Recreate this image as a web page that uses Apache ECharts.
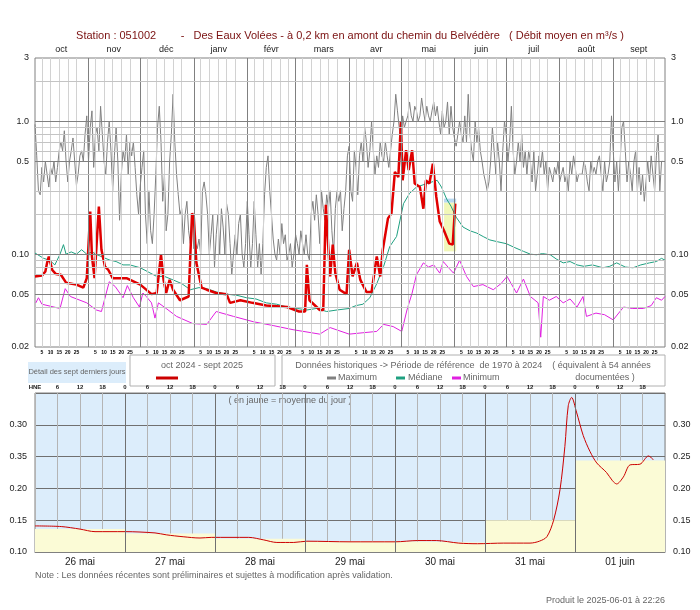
<!DOCTYPE html>
<html>
<head>
<meta charset="utf-8">
<script src="https://cdn.jsdelivr.net/npm/echarts@6/dist/echarts.min.js"></script>
<style>
html, body { margin: 0; padding: 0; background: #fff; }
#chart { width: 700px; height: 610px; }
</style>
</head>
<body>
<div id="chart"></div>
<script>
// jours depuis le 1er octobre
var months = ['oct', 'nov', 'déc', 'janv', 'févr', 'mars', 'avr', 'mai', 'juin', 'juil', 'août', 'sept'];
var monthStart = [0, 31, 61, 92, 123, 151, 182, 212, 243, 273, 304, 335, 365];
var minorDays = [5, 10, 15, 20, 25];
var yMinor = [0.03, 0.04, 0.06, 0.07, 0.08, 0.09, 0.2, 0.3, 0.4, 0.6, 0.7, 0.8, 0.9, 2];
var yMajor = [0.05, 0.1, 0.5, 1];
var yLabels = [[3, '3'], [1, '1.0'], [0.5, '0.5'], [0.1, '0.10'], [0.05, '0.05'], [0.02, '0.02']];

var observed = [[0,0.068],[4,0.069],[6,0.074],[7,0.086],[8,0.096],[9,0.093],[10,0.076],[12,0.071],[15,0.070],[18,0.061],
  [24,0.059],[28,0.056],[30,0.066],[32,0.209],[33,0.096],[34.5,0.066],[35.5,0.108],[37,0.228],[38.5,0.108],[40.5,0.081],
  [42.5,0.076],[45,0.066],[53,0.066],[61,0.059],[67.5,0.050],[70.5,0.051],[72,0.076],[73,0.099],[74.5,0.064],[76,0.051],
  [78,0.064],[80,0.054],[84,0.045],[89,0.048],[91,0.203],[92,0.19],[93.5,0.086],[96.5,0.056],[99.5,0.054],[105,0.051],
  [111,0.050],[113,0.043],[119,0.045],[126,0.043],[134,0.041],[146,0.040],[153,0.037],[156.5,0.037],[157.5,0.083],
  [159,0.045],[165,0.038],[167,0.038],[168.5,0.235],[170,0.108],[171,0.068],[172.5,0.118],[174,0.072],[176.5,0.054],
  [180.5,0.050],[182,0.108],[183,0.105],[184,0.068],[186.5,0.086],[188.5,0.064],[192,0.052],[195,0.052],[198,0.096],
  [200,0.068],[201.5,0.108],[204.5,0.186],[206.5,0.203],[208.5,0.417],[210.5,0.38],[212,0.99],[213,0.36],[215,0.606],
  [216.5,0.43],[218.5,0.606],[220,0.34],[223,0.32],[225,0.22],[226.5,0.36],[228.5,0.34],[230.5,0.48],[232.5,0.27],
  [234.5,0.176],[237,0.15],[240,0.12],[242,0.118],[243.5,0.24]];

var median = [[0,0.102],[5,0.093],[8.5,0.090],[11.5,0.083],[14.5,0.100],[16.5,0.118],[18,0.100],[21,0.104],[24,0.100],
  [27,0.108],[30,0.100],[33,0.104],[36,0.099],[40,0.094],[43.5,0.090],[47,0.088],[51,0.083],[55,0.083],[61,0.079],
  [66,0.073],[70.5,0.068],[75,0.068],[80,0.064],[85,0.060],[90,0.054],[95,0.056],[99.5,0.055],[105,0.052],[111,0.050],
  [117,0.049],[122.5,0.047],[128,0.046],[134,0.043],[140,0.042],[146,0.040],[152,0.039],[157.5,0.038],[163,0.039],
  [169,0.037],[175,0.038],[182,0.039],[186,0.041],[190,0.042],[194,0.047],[198,0.060],[202,0.081],[205.5,0.114],
  [209.5,0.136],[213.5,0.24],[217,0.287],[221,0.32],[227,0.34],[233,0.36],[235.5,0.32],[238.5,0.26],[241,0.23],
  [244,0.19],[248,0.16],[252,0.15],[256,0.144],[260,0.135],[263.5,0.128],[268,0.124],[273,0.12],[278,0.112],
  [283,0.105],[287,0.100],[290.5,0.099],[294,0.101],[298.5,0.099],[302,0.092],[306,0.086],[310,0.088],[314,0.083],
  [318,0.081],[323,0.083],[329,0.079],[333,0.081],[337,0.086],[342,0.080],[346.5,0.079],[351,0.083],[356,0.086],
  [360,0.088],[363,0.093],[365,0.090]];

var minimum = [[0.5,0.043],[2,0.047],[4,0.042],[14.5,0.039],[17.5,0.055],[20.5,0.048],[30,0.043],[35.5,0.038],[38.5,0.037],
  [43,0.062],[46.5,0.057],[51,0.047],[53.5,0.058],[57,0.047],[60.5,0.040],[62.5,0.051],[64.5,0.048],[67.5,0.043],
  [69.5,0.033],[71.5,0.043],[76,0.039],[82,0.034],[91.5,0.030],[99.5,0.0296],[105,0.037],[115,0.034],[126.5,0.031],
  [138,0.029],[149.5,0.027],[165,0.025],[171,0.028],[182,0.025],[190,0.0256],[198,0.0262],[202,0.0296],[207.5,0.0285],
  [212.5,0.0262],[215.5,0.038],[218.5,0.051],[221,0.070],[225,0.086],[228,0.080],[231,0.083],[234.5,0.072],
  [236.5,0.088],[240,0.078],[242.5,0.072],[246,0.090],[250,0.068],[254,0.057],[259.5,0.059],[265.5,0.054],
  [270,0.060],[273.5,0.068],[279,0.051],[283,0.065],[287,0.048],[291.5,0.043],[293,0.0237],[294.5,0.048],
  [298,0.045],[302,0.048],[306,0.043],[310,0.046],[314,0.040],[317.5,0.048],[319.5,0.034],[325,0.036],
  [330,0.035],[335,0.032],[341,0.040],[346,0.039],[352.5,0.039],[357,0.041],[360,0.047],[363,0.045],[365,0.048]];

var maximum = [0.95,0.55,0.3,0.28,0.45,0.35,0.5,0.4,0.32,0.45,0.4,0.5,0.35,0.45,0.6,0.7,0.6,0.85,0.5,0.35,
  0.5,0.6,0.75,0.5,0.33,0.4,0.55,0.6,0.5,0.8,1.1,0.5,0.9,1.2,0.45,0.8,0.9,0.6,1.3,0.8,
  0.5,0.4,0.7,1.0,0.6,0.3,0.55,0.9,0.5,0.18,0.4,0.6,0.5,0.8,0.4,0.7,0.55,0.7,0.45,0.28,
  0.2,0.33,0.45,0.6,0.2,0.12,0.3,0.15,0.12,0.2,0.4,0.9,1.3,0.7,0.25,0.4,0.15,0.2,0.5,0.8,
  1.6,0.7,0.4,0.28,0.2,0.22,0.12,0.2,0.25,0.15,0.12,0.2,0.11,0.12,0.11,0.13,0.1,0.3,0.35,0.28,
  0.2,0.1,0.14,0.2,0.08,0.14,0.2,0.1,0.22,0.16,0.1,0.24,0.2,0.12,0.07,0.1,0.14,0.1,0.17,0.2,
  0.1,0.08,0.12,0.25,0.14,0.08,0.12,0.25,0.14,0.08,0.12,0.07,0.12,0.28,0.45,0.55,0.3,0.2,0.13,0.1,
  0.09,0.13,0.1,0.17,0.12,0.14,0.09,0.1,0.12,0.08,0.1,0.14,0.12,0.1,0.15,0.12,0.1,0.14,0.1,0.09,
  0.2,0.25,0.18,0.28,0.2,0.12,0.3,0.22,0.18,0.28,0.22,0.3,0.15,0.1,0.22,0.3,0.25,0.3,0.15,0.22,
  0.3,0.55,0.65,0.3,0.25,0.6,0.45,0.28,0.55,0.7,0.5,0.9,0.7,0.45,0.6,1.0,0.6,0.4,0.55,0.45,
  0.7,0.55,0.5,0.7,0.55,0.45,0.6,0.8,1.0,1.6,1.2,0.9,0.7,1.1,0.9,1.0,1.1,1.4,1.1,1.0,
  1.3,1.2,1.0,1.1,1.5,1.2,1.0,1.3,1.1,1.0,1.2,1.4,1.1,1.3,1.0,0.8,1.2,0.9,1.0,1.4,
  0.8,1.3,0.9,0.75,0.65,0.8,1.0,0.8,0.7,1.1,0.7,1.6,0.8,0.6,0.5,1.0,0.7,0.9,0.6,0.5,
  0.4,0.35,0.3,0.35,0.5,0.9,0.6,0.4,0.7,0.5,0.3,0.6,1.0,0.8,0.5,0.7,1.3,0.6,0.4,0.5,
  0.7,0.5,0.8,0.45,0.6,0.4,0.6,0.5,0.35,0.6,0.3,0.4,0.55,0.45,0.6,0.4,0.5,0.3,0.45,0.4,
  0.35,0.45,0.4,0.5,0.35,0.4,0.45,0.35,0.4,0.3,0.5,0.4,0.55,0.45,0.35,0.4,0.4,0.4,0.5,0.45,
  0.35,0.3,0.5,0.4,0.45,0.4,0.5,0.55,0.4,0.3,0.5,0.35,0.4,0.5,1.1,0.6,0.35,0.5,0.3,0.5,
  0.9,1.0,0.6,0.35,0.5,0.4,0.3,0.5,0.6,0.3,0.45,0.28,0.4,0.25,0.35,0.5,0.35,0.55,0.4,0.3,
  0.55,0.8,0.3,0.5,0.5];

// sept derniers jours, heures depuis le 26 mai 0h
var dayNames = ['26 mai', '27 mai', '28 mai', '29 mai', '30 mai', '31 mai', '01 juin'];
var dailyMean = [0.136, 0.129, 0.121, 0.117, 0.115, 0.150, 0.244];
var hourly = [[0,0.141],[7,0.140],[12,0.136],[16,0.132],[24,0.132],[32,0.130],[35,0.127],[39.5,0.124],[44,0.122],
  [47,0.123],[57,0.123],[61,0.119],[64.5,0.115],[69,0.115],[72.5,0.117],[84,0.116],[96,0.116],[102,0.118],[107,0.118],
  [113,0.114],[118,0.113],[125,0.114],[132,0.114],[134.5,0.117],[136.5,0.124],[138.3,0.150],[140,0.198],[141.3,0.266],
  [142.2,0.33],[143.1,0.343],[144.4,0.320],[146.2,0.283],[148,0.258],[149.8,0.240],[152.4,0.225],[154,0.212],[155.1,0.207],
  [156.9,0.218],[158.7,0.237],[161.3,0.238],[163.6,0.251],[164.9,0.245]];

var meanSteps = dailyMean.map(function(v, i) { return [i * 24, v]; });
meanSteps.push([168, dailyMean[dailyMean.length - 1]]);
var maxData = maximum.map(function(v, i) { return [i, v]; });

var vLines = [];
for (var m = 0; m < 12; m++) {
	for (var k = 0; k < minorDays.length; k++) {
		vLines.push({ xAxis: monthStart[m] + minorDays[k] - 1, lineStyle: { color: '#d2d2d2' },
			label: { show: true, position: 'start', formatter: String(minorDays[k]), fontSize: 5, fontWeight: 'bold', color: '#000', distance: 3 } });
	}
	if (m > 0) vLines.push({ xAxis: monthStart[m], lineStyle: { color: '#808080' }, label: { show: false } });
}
var hLines = [];
yMinor.forEach(function(v) { hLines.push({ yAxis: v, lineStyle: { color: '#c4c4c4' }, label: { show: false } }); });
yMajor.forEach(function(v) { hLines.push({ yAxis: v, lineStyle: { color: '#808080' }, label: { show: false } }); });
yLabels.forEach(function(p) {
	['start', 'end'].forEach(function(pos) {
		hLines.push({ yAxis: p[0], lineStyle: { color: (p[0] > 2 || p[0] < 0.03) ? 'rgba(0,0,0,0)' : '#808080' },
			label: { show: true, position: pos, formatter: p[1], fontSize: 9, color: '#222', distance: 6 } });
	});
});
var dayLines = [];
for (var d = 1; d < 7; d++) dayLines.push({ xAxis: d * 24 });

var txt = { fontSize: 9, fill: '#666', fontFamily: 'Liberation Sans' };
function legendDash(x, color) {
	return { type: 'line', shape: { x1: x, y1: 378, x2: x + 9, y2: 378 }, style: { stroke: color, lineWidth: 3 } };
}

var chart = echarts.init(document.getElementById('chart'));
chart.setOption({
	animation: false,
	textStyle: { fontFamily: 'Liberation Sans' },
	title: {
		text: 'Station : 051002        -   Des Eaux Volées - à 0,2 km en amont du chemin du Belvédère   ( Débit moyen en m³/s )',
		left: 'center', top: 25,
		textStyle: { fontSize: 11, fontWeight: 'normal', color: '#7a1010' }
	},
	grid: [
		{ left: 35, right: 35, top: 58, height: 289, show: true, borderColor: '#808080', borderWidth: 1 },
		{ left: 35, right: 35, top: 393, height: 159, show: true, borderColor: '#808080', borderWidth: 1, backgroundColor: '#dcedfb' }
	],
	xAxis: [
		{ gridIndex: 0, type: 'value', min: 0, max: 365, show: false },
		{ gridIndex: 0, type: 'category', position: 'top', data: months, boundaryGap: true,
			axisLine: { show: false }, axisTick: { show: false }, splitLine: { show: false },
			axisLabel: { fontSize: 9, color: '#222', margin: 4 } },
		{ gridIndex: 1, type: 'value', min: 0, max: 168, interval: 12,
			axisLine: { lineStyle: { color: '#808080' } }, axisTick: { show: false }, splitLine: { show: false },
			axisLabel: { fontSize: 10, color: '#222', margin: 5, formatter: function(v) { return v % 24 === 12 ? dayNames[(v - 12) / 24] : ''; } } },
		{ gridIndex: 1, type: 'value', position: 'top', min: 0, max: 168, interval: 6,
			axisLine: { show: false }, axisTick: { show: false },
			splitLine: { show: true, lineStyle: { color: '#b4b4b4' } },
			axisLabel: { fontSize: 6, fontWeight: 'bold', color: '#222', margin: 3, showMaxLabel: false,
				formatter: function(v) { return v === 0 ? 'HNE' : String(v % 24); } } }
	],
	yAxis: [
		{ gridIndex: 0, type: 'log', logBase: 10, min: 0.02, max: 3, show: false },
		{ gridIndex: 1, type: 'value', min: 0.10, max: 0.35, interval: 0.05,
			axisLine: { show: false }, axisTick: { show: false },
			splitLine: { lineStyle: { color: '#707070' } },
			axisLabel: { fontSize: 9, color: '#222', showMaxLabel: false,
				formatter: function(v) { return Math.abs(v - 0.25) < 1e-6 ? '0.35' : v.toFixed(2); } } },
		{ gridIndex: 1, type: 'value', position: 'right', min: 0.10, max: 0.35, interval: 0.05,
			axisLine: { show: false }, axisTick: { show: false }, splitLine: { show: false },
			axisLabel: { fontSize: 9, color: '#222', showMaxLabel: false, formatter: function(v) { return v.toFixed(2); } } }
	],
	series: [
		{ type: 'line', xAxisIndex: 0, yAxisIndex: 0, data: [], z: 1, silent: true,
			markLine: { silent: true, symbol: 'none', animation: false, lineStyle: { type: 'solid', width: 1 }, data: vLines.concat(hLines) },
			markArea: { silent: true, data: [
				[{ xAxis: 237, yAxis: 0.105, itemStyle: { color: '#f1f7b8' } }, { xAxis: 244, yAxis: 0.245 }],
				[{ xAxis: 237, yAxis: 0.245, itemStyle: { color: '#b8d8f0' } }, { xAxis: 244, yAxis: 0.262 }]
			] } },
		{ name: 'Maximum', type: 'line', xAxisIndex: 0, yAxisIndex: 0, data: maxData, symbol: 'none', z: 2,
			lineStyle: { color: '#808080', width: 1 } },
		{ name: 'Médiane', type: 'line', xAxisIndex: 0, yAxisIndex: 0, data: median, symbol: 'none', z: 3,
			lineStyle: { color: '#1fa080', width: 1 } },
		{ name: 'Minimum', type: 'line', xAxisIndex: 0, yAxisIndex: 0, data: minimum, symbol: 'none', z: 3,
			lineStyle: { color: '#e020e0', width: 1 } },
		{ name: 'oct 2024 - sept 2025', type: 'line', xAxisIndex: 0, yAxisIndex: 0, data: observed, symbol: 'none', z: 4,
			lineStyle: { color: '#e00000', width: 2.5 } },
		{ type: 'line', xAxisIndex: 2, yAxisIndex: 1, data: meanSteps, step: 'end', symbol: 'none', z: 1,
			lineStyle: { width: 0 }, areaStyle: { color: '#fbfbd6', opacity: 1 },
			markLine: { silent: true, symbol: 'none', label: { show: false }, lineStyle: { type: 'solid', color: '#707070', width: 1 }, data: dayLines } },
		{ type: 'line', xAxisIndex: 2, yAxisIndex: 1, data: hourly, symbol: 'none', smooth: 0.3, z: 4,
			lineStyle: { color: '#cc0000', width: 1 } }
	],
	graphic: [
		{ type: 'rect', shape: { x: 28, y: 362, width: 98, height: 21 }, style: { fill: '#dcedfb' } },
		{ type: 'text', x: 77, y: 372, style: echarts.util.extend({ text: 'Détail des sept derniers jours', align: 'center', verticalAlign: 'middle' }, echarts.util.extend(echarts.util.clone(txt), { fontSize: 7.5 })) },
		{ type: 'rect', shape: { x: 130, y: 355, width: 145, height: 31 }, style: { fill: '#fff', stroke: '#b0b0b0' } },
		{ type: 'text', x: 202, y: 366, style: echarts.util.extend({ text: 'oct 2024 - sept 2025', align: 'center', verticalAlign: 'middle' }, txt) },
		{ type: 'line', shape: { x1: 156, y1: 378, x2: 178, y2: 378 }, style: { stroke: '#cc0000', lineWidth: 3 } },
		{ type: 'rect', shape: { x: 282, y: 355, width: 383, height: 31 }, style: { fill: '#fff', stroke: '#b0b0b0' } },
		{ type: 'text', x: 473, y: 366, style: echarts.util.extend({ text: 'Données historiques -> Période de référence  de 1970 à 2024    ( équivalent à 54 années', align: 'center', verticalAlign: 'middle' }, txt) },
		legendDash(327, '#808080'),
		{ type: 'text', x: 338, y: 378, style: echarts.util.extend({ text: 'Maximum', verticalAlign: 'middle' }, txt) },
		legendDash(396, '#1fa080'),
		{ type: 'text', x: 408, y: 378, style: echarts.util.extend({ text: 'Médiane', verticalAlign: 'middle' }, txt) },
		legendDash(452, '#e020e0'),
		{ type: 'text', x: 463, y: 378, style: echarts.util.extend({ text: 'Minimum', verticalAlign: 'middle' }, txt) },
		{ type: 'text', x: 605, y: 378, style: echarts.util.extend({ text: 'documentées )', align: 'center', verticalAlign: 'middle' }, txt) },
		{ type: 'text', x: 290, y: 401, style: echarts.util.extend({ text: '( en jaune = moyenne du jour )', align: 'center', verticalAlign: 'middle' }, txt) },
		{ type: 'text', x: 35, y: 576, style: echarts.util.extend({ text: 'Note : Les données récentes sont préliminaires et sujettes à modification après validation.', verticalAlign: 'middle' }, txt) },
		{ type: 'text', x: 665, y: 601, style: echarts.util.extend({ text: 'Produit le 2025-06-01 à 22:26', align: 'right', verticalAlign: 'middle' }, txt) }
	]
});
</script>
</body>
</html>
